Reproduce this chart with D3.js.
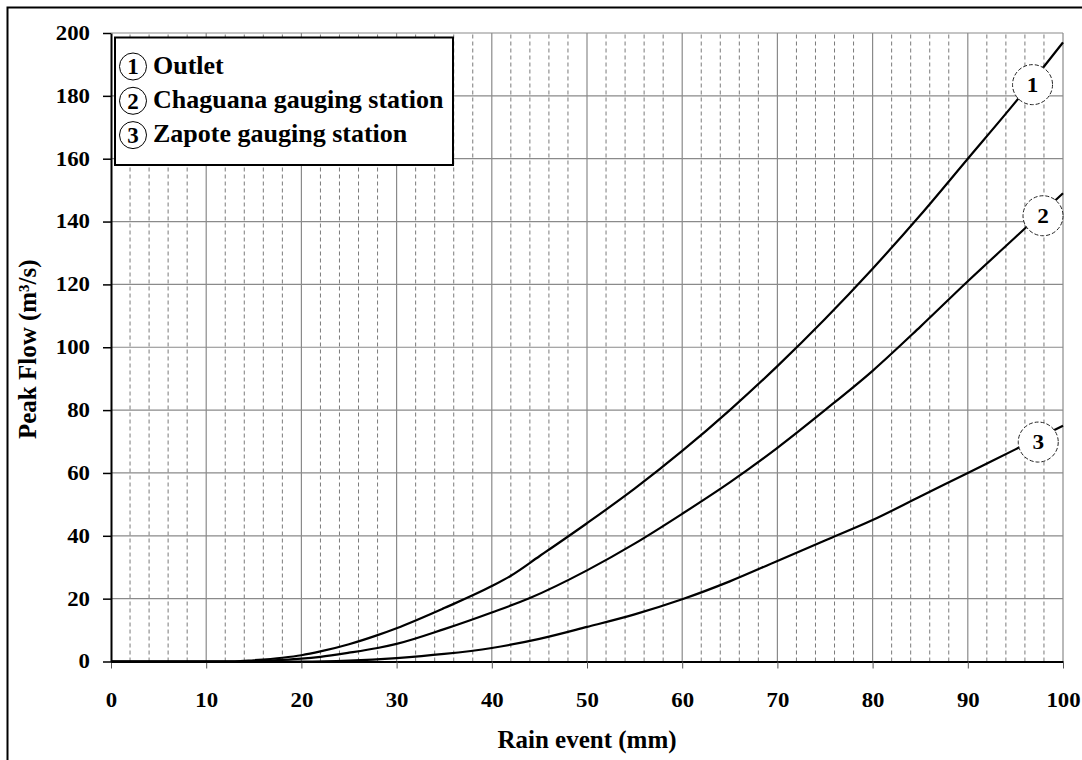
<!DOCTYPE html>
<html>
<head>
    <title>Peak flow vs rain event</title>
    <script src="https://d3js.org/d3.v7.min.js"></script>
    <style>
        body { margin: 0; background: #fff; }
        text { font-family: "Liberation Serif", "Times New Roman", serif; font-weight: bold; fill: #000; }
    </style>
</head>
<body>
<script>
    // rain event (mm) and peak flow (m3/s)
    var rain1 = [0, 10, 13, 15, 18, 20, 22, 25, 28, 30, 35, 40, 42, 45, 50, 55, 60, 65, 70, 75, 80, 85, 90, 95, 100];
    var outlet = [0, 0, 0, 0.4, 1.2, 2, 3.2, 5.5, 8.4, 10.6, 17, 24, 27.3, 33.5, 44, 55, 67, 80, 94, 109, 125, 142, 160, 178, 197];

    var rain2 = [0, 10, 14, 16, 18, 20, 22, 25, 28, 30, 35, 40, 44, 50, 55, 60, 65, 70, 75, 80, 85, 90, 95, 100];
    var chaguana = [0, 0, 0, 0.2, 0.5, 0.9, 1.5, 2.8, 4.3, 5.6, 10.3, 15.6, 20.2, 29, 37.5, 47, 57, 68, 80, 92.5, 106.5, 121, 135, 149];

    var rain3 = [0, 10, 20, 25, 30, 35, 40, 45, 50, 55, 60, 65, 70, 75, 80, 85, 90, 95, 100];
    var zapote = [0, 0, 0, 0.3, 1.1, 2.4, 4.3, 7.2, 11, 15, 19.8, 25.5, 32, 38.5, 45, 52.5, 60, 67.5, 75];

    var seriesNames = ["Outlet", "Chaguana gauging station", "Zapote gauging station"];
    var labelAt = [96.8, 97.9, 97.4]; // rain value where the numbered circle sits on each curve

    var xTicks = [0, 10, 20, 30, 40, 50, 60, 70, 80, 90, 100];
    var yTicks = [0, 20, 40, 60, 80, 100, 120, 140, 160, 180, 200];

    var W = 1082, H = 760;
    var margin = {top: 33, right: 19, bottom: 98.5, left: 111};

    var svg = d3.select("body").append("svg")
                .attr("width", W)
                .attr("height", H);

    // outer frame
    svg.append("rect")
        .attr("x", 7.5).attr("y", 7.5)
        .attr("width", W + 20).attr("height", H + 20)
        .attr("fill", "none").attr("stroke", "#000").attr("stroke-width", 2);

    var x = d3.scaleLinear().domain([0, 100]).range([margin.left, W - margin.right]);
    var y = d3.scaleLinear().domain([0, 200]).range([H - margin.bottom, margin.top]);

    var g = svg.append("g");

    // minor dashed verticals every 2 mm
    var minor = d3.range(2, 100, 2).filter(function(v){ return v % 10 !== 0; });
    g.selectAll("line.minor").data(minor).enter().append("line")
        .attr("class", "minor")
        .attr("x1", x).attr("x2", x)
        .attr("y1", y(0)).attr("y2", y(200))
        .attr("stroke", "#7a7a7a").attr("stroke-width", 1)
        .attr("stroke-dasharray", "4,3");

    // major verticals
    g.selectAll("line.vmaj").data(xTicks.slice(1)).enter().append("line")
        .attr("class", "vmaj")
        .attr("x1", x).attr("x2", x)
        .attr("y1", y(0)).attr("y2", y(200))
        .attr("stroke", "#8a8a8a").attr("stroke-width", 1.2);

    // horizontals
    g.selectAll("line.hmaj").data(yTicks.slice(1)).enter().append("line")
        .attr("class", "hmaj")
        .attr("x1", x(0)).attr("x2", x(100))
        .attr("y1", y).attr("y2", y)
        .attr("stroke", "#8a8a8a").attr("stroke-width", 1.2);

    // axes
    var yAxis = svg.append("g")
        .attr("transform", "translate(" + x(0) + ",0)")
        .call(d3.axisLeft(y).tickValues(yTicks).tickSize(8).tickPadding(13).tickSizeOuter(0));
    yAxis.select(".domain").attr("stroke", "#000").attr("stroke-width", 2);
    yAxis.selectAll(".tick line").attr("stroke", "#000").attr("stroke-width", 1.5);

    var xAxis = svg.append("g")
        .attr("transform", "translate(0," + y(0) + ")")
        .call(d3.axisBottom(x).tickValues(xTicks).tickSize(7).tickPadding(24).tickSizeOuter(0));
    xAxis.select(".domain").attr("stroke", "#000").attr("stroke-width", 2);
    xAxis.selectAll(".tick line").attr("stroke", "#555").attr("stroke-width", 1);

    svg.selectAll(".tick text")
        .attr("font-size", 20)
        .attr("font-family", "Liberation Serif")
        .attr("font-weight", "bold")
        .attr("fill", "#000")
        .attr("lengthAdjust", "spacingAndGlyphs")
        .attr("textLength", function(d){ return String(d).length * 11.4; });

    // curves
    var line = d3.line()
        .x(function(d){ return x(d[0]); })
        .y(function(d){ return y(d[1]); })
        .curve(d3.curveMonotoneX);

    var series = [d3.zip(rain1, outlet), d3.zip(rain2, chaguana), d3.zip(rain3, zapote)];

    svg.selectAll("path.curve").data(series).enter().append("path")
        .attr("class", "curve")
        .attr("d", line)
        .attr("fill", "none")
        .attr("stroke", "#000")
        .attr("stroke-width", 2.2);

    // numbered circles on curves
    function valueAt(s, xv) {
        for (var i = 1; i < s.length; i++) {
            if (s[i][0] >= xv) {
                var t = (xv - s[i-1][0]) / (s[i][0] - s[i-1][0]);
                return s[i-1][1] + t * (s[i][1] - s[i-1][1]);
            }
        }
        return s[s.length - 1][1];
    }

    var marks = svg.selectAll("g.mark").data(series).enter().append("g")
        .attr("class", "mark")
        .attr("transform", function(d, i){
            return "translate(" + x(labelAt[i]) + "," + (y(valueAt(d, labelAt[i])) + 4) + ")";
        });
    marks.append("circle")
        .attr("r", 20)
        .attr("fill", "#fff")
        .attr("stroke", "#222")
        .attr("stroke-width", 1)
        .attr("stroke-dasharray", "4,2");
    marks.append("text")
        .attr("text-anchor", "middle")
        .attr("dy", "0.35em")
        .attr("font-size", 21)
        .attr("lengthAdjust", "spacingAndGlyphs")
        .attr("textLength", 11.6)
        .text(function(d, i){ return i + 1; });

    // legend
    var legend = svg.append("g");
    legend.append("rect")
        .attr("x", 115).attr("y", 37.5)
        .attr("width", 338).attr("height", 127.5)
        .attr("fill", "#fff")
        .attr("stroke", "#000").attr("stroke-width", 2);

    var items = legend.selectAll("g.item").data(seriesNames).enter().append("g")
        .attr("class", "item")
        .attr("transform", function(d, i){ return "translate(133," + (66.5 + i * 34.3) + ")"; });
    items.append("circle")
        .attr("r", 13.5)
        .attr("fill", "none")
        .attr("stroke", "#000")
        .attr("stroke-width", 1);
    items.append("text")
        .attr("text-anchor", "middle")
        .attr("dy", "0.34em")
        .attr("font-size", 23)
        .text(function(d, i){ return i + 1; });
    items.append("text")
        .attr("x", 20)
        .attr("dy", "0.27em")
        .attr("font-size", 26)
        .text(function(d){ return d; });

    // axis titles
    svg.append("text")
        .attr("x", (x(0) + x(100)) / 2)
        .attr("y", 748)
        .attr("text-anchor", "middle")
        .attr("font-size", 25)
        .text("Rain event (mm)");

    svg.append("text")
        .attr("transform", "translate(36," + (y(100) + 2) + ") rotate(-90)")
        .attr("text-anchor", "middle")
        .attr("font-size", 25)
        .text("Peak Flow (m³/s)");
</script>
</body>
</html>
